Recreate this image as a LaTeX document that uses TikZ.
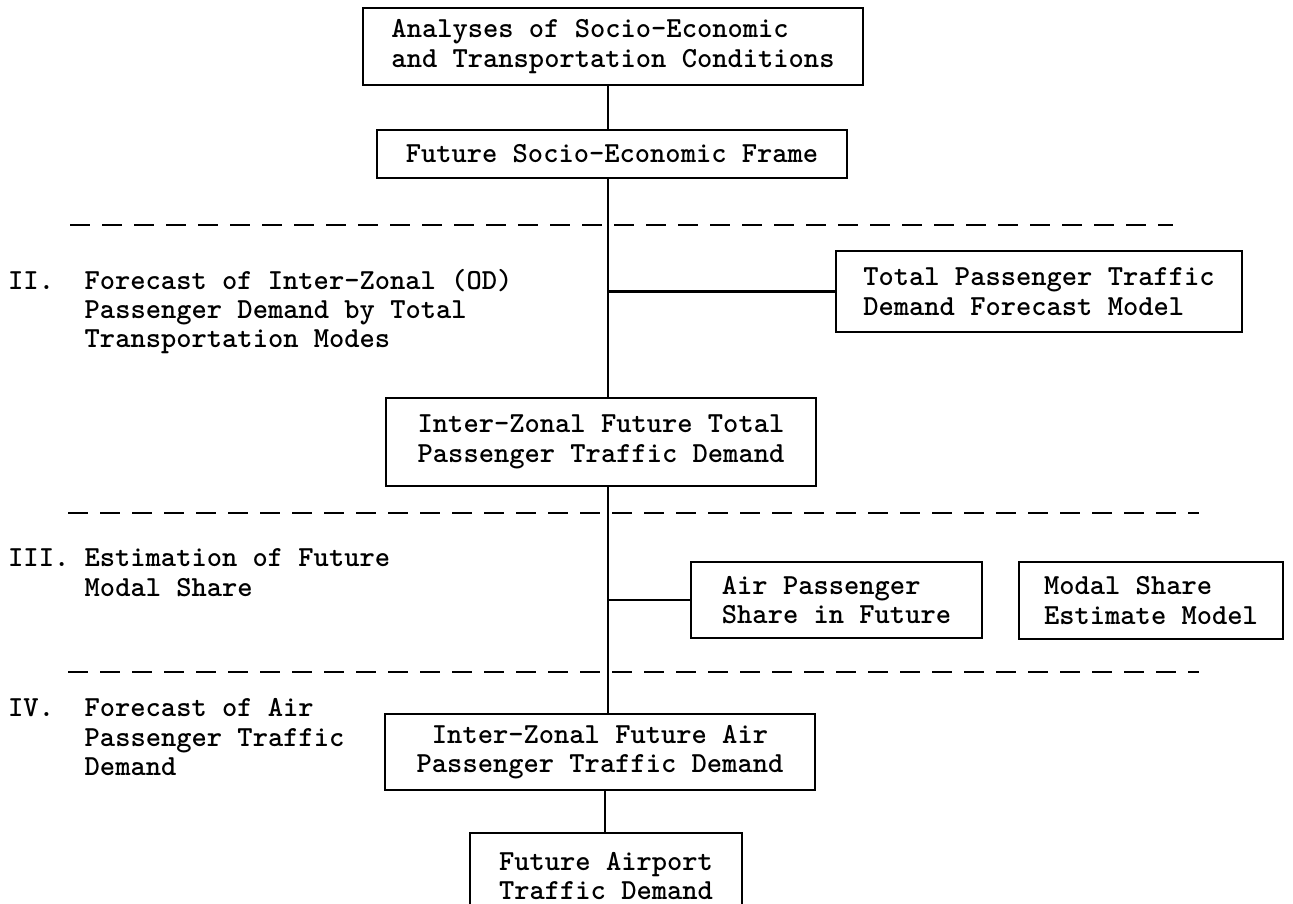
\documentclass[tikz,border=0pt]{standalone}
\usepackage{tikz}
\newcommand\diagfont{\ttfamily\bfseries\fontsize{29.1pt}{29.5pt}\selectfont}
\begin{document}
\frenchspacing
\begin{tikzpicture}[x=1pt,y=-1pt,
  every node/.style={font=\diagfont},
  box/.style={draw, line width=2.7pt, inner sep=0pt},
  conn/.style={line width=2.8pt},
  sep/.style={line width=2.4pt, dash pattern=on 20pt off 12pt},
  lbl/.style={anchor=base west, inner sep=0pt}]
\useasboundingbox (0,0) rectangle (1293,904);
\clip (0,0) rectangle (1293,904);
\fill[white] (0,0) rectangle (1293,904);

\coordinate (ax) at (608,0);
\coordinate (ax2) at (605,0);

% separators
\coordinate (d1a) at (70,225);  \coordinate (d1b) at (1173,225);
\coordinate (d2a) at (68,513);  \coordinate (d2b) at (1199,513);
\coordinate (d3a) at (68,672);  \coordinate (d3b) at (1199,672);
\draw[sep] (d1a) -- (d1b);
\draw[sep] (d2a) -- (d2b);
\draw[sep] (d3a) -- (d3b);

% boxes
\node[box, minimum width=500pt, minimum height=77pt, align=left] (a) at (613,46.5)
  {Analyses of Socio-Economic\\and Transportation Conditions};
\node[box, minimum width=470pt, minimum height=48pt] (b) at (612,154)
  {Future Socio-Economic Frame};
\node[box, minimum width=406pt, minimum height=81pt, align=left] (tp) at (1039,291.5)
  {Total Passenger Traffic\\Demand Forecast Model};
\node[box, minimum width=430pt, minimum height=88pt, align=center] (c) at (601,442)
  {Inter-Zonal Future Total\\Passenger Traffic Demand};
\node[box, minimum width=291pt, minimum height=76pt, align=left] (air) at (836.5,600)
  {Air Passenger\\Share in Future};
\node[box, minimum width=264pt, minimum height=77pt, align=left] (modal) at (1151,600.5)
  {Modal Share\\Estimate Model};
\node[box, minimum width=430pt, minimum height=76pt, align=center] (e) at (600,752)
  {Inter-Zonal Future Air\\Passenger Traffic Demand};
\node[box, minimum width=272pt, minimum height=86pt, align=center] (f) at (606,876)
  {Future Airport\\Traffic Demand};

% connectors
\draw[conn] (a.south -| ax) -- (b.north -| ax);
\draw[conn] (b.south -| ax) -- (c.north -| ax);
\draw[conn] (tp.west) -- (tp.west -| ax);
\draw[conn] (c.south -| ax) -- (e.north -| ax);
\draw[conn] (air.west) -- (air.west -| ax);
\draw[conn] (e.south -| ax2) -- (f.north -| ax2);

% stage labels
\node[lbl] (l2a) at (8,289) {II.\ \ Forecast of Inter-Zonal (OD)};
\node[lbl] (l2b) at (84.5,318) {Passenger Demand by Total};
\node[lbl] (l2c) at (84.5,347) {Transportation Modes};
\node[lbl] (l3a) at (8,566) {III.\ Estimation of Future};
\node[lbl] (l3b) at (84.5,596) {Modal Share};
\node[lbl] (l4a) at (8,716) {IV.\ \ Forecast of Air};
\node[lbl] (l4b) at (84.5,746) {Passenger Traffic};
\node[lbl] (l4c) at (84.5,775) {Demand};
\end{tikzpicture}
\end{document}
